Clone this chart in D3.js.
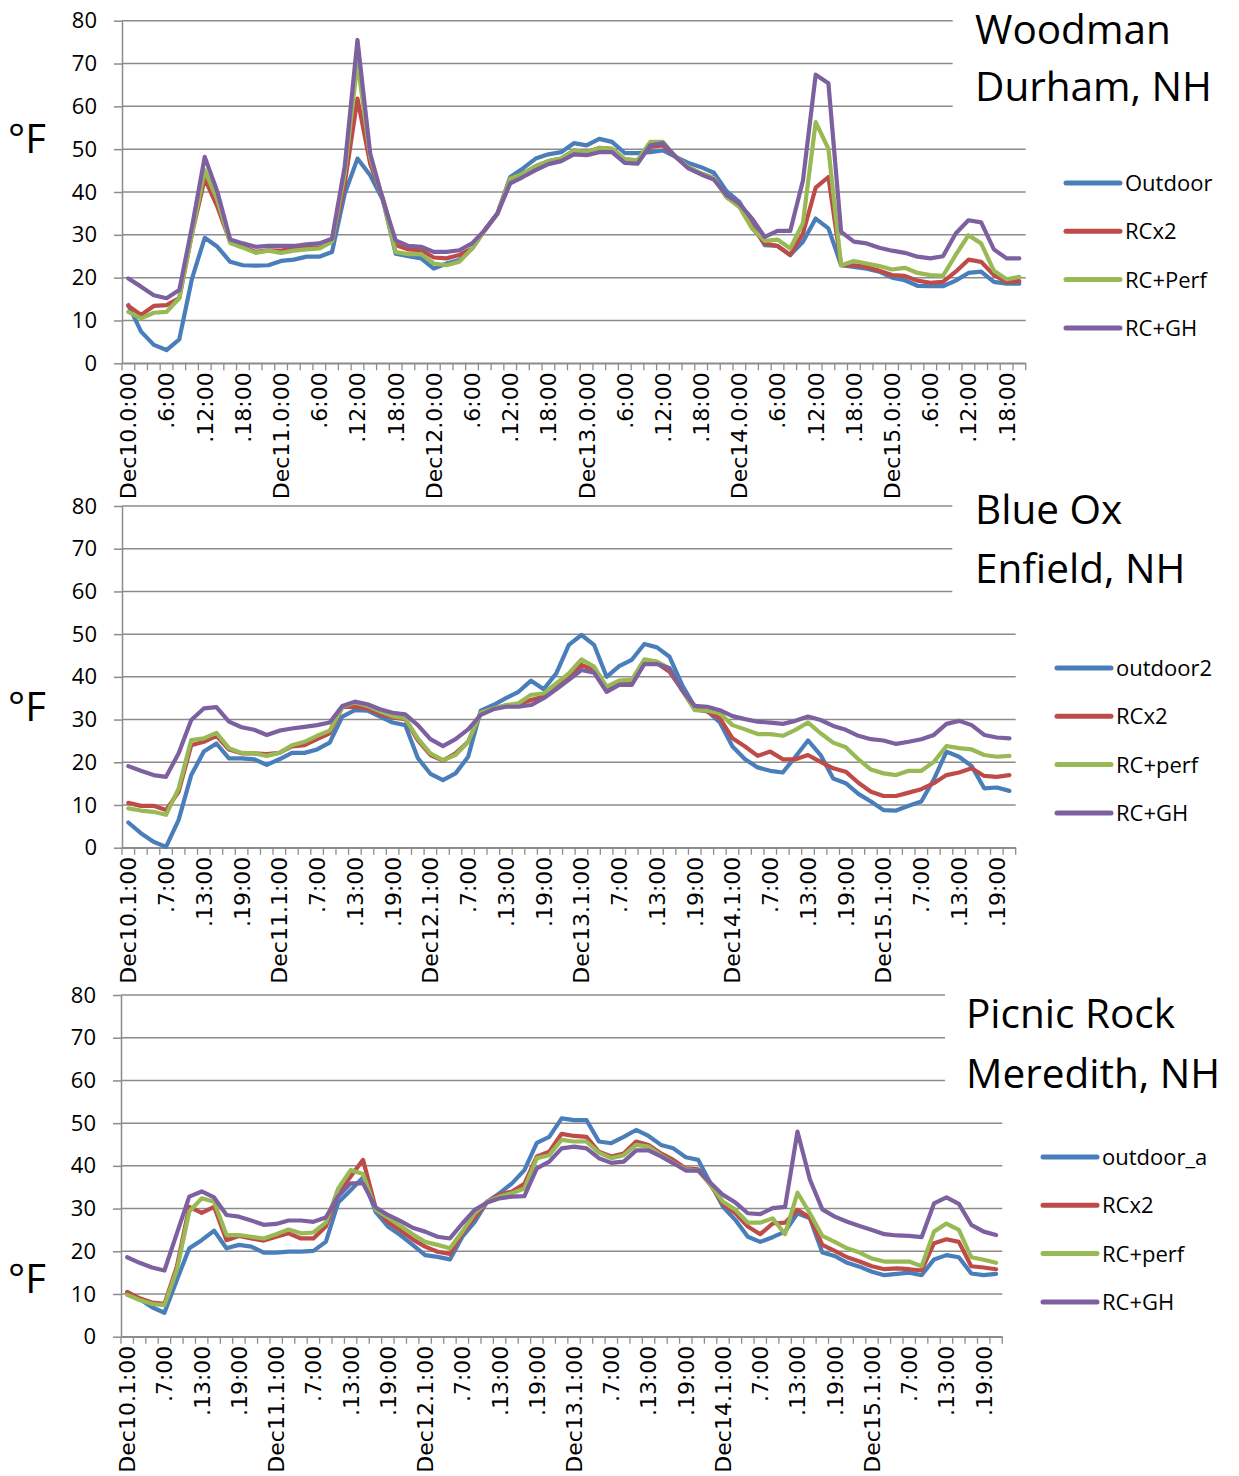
<!DOCTYPE html>
<html><head><meta charset="utf-8">
<script src="https://cdn.jsdelivr.net/npm/d3@7"></script>
<style>body{margin:0;background:#fff}svg{display:block}</style>
</head><body>
<svg id="c" width="1239" height="1476"></svg>
<script>
// ---------- DATA ----------
const days = ["Dec10","Dec11","Dec12","Dec13","Dec14","Dec15"];
const hoursEven = ["0","2","4","6","8","10","12","14","16","18","20","22"];
const hoursOdd  = ["1","3","5","7","9","11","13","15","17","19","21","23"];
const yTicks = [0,10,20,30,40,50,60,70,80];

const names1 = ["Outdoor","RCx2","RC+Perf","RC+GH"];
const names2 = ["outdoor2","RCx2","RC+perf","RC+GH"];
const names3 = ["outdoor_a","RCx2","RC+perf","RC+GH"];
const titles1 = ["Woodman","Durham, NH"];
const titles2 = ["Blue Ox","Enfield, NH"];
const titles3 = ["Picnic Rock","Meredith, NH"];

// Woodman, Durham NH
const woodOutdoor = [13.6,7.4,4.3,3.1,5.6,19.8,29.3,27.2,23.7,22.9,22.8,22.9,23.9,24.2,24.9,24.9,26.0,39.6,47.8,43.9,38.1,25.6,25.0,24.5,22.1,23.3,24.1,26.8,31.1,35.0,43.5,45.5,47.8,48.8,49.3,51.4,50.9,52.4,51.7,49.1,49.1,49.3,49.7,48.2,46.8,45.8,44.5,40.2,37.7,32.6,27.6,27.4,25.3,28.4,33.8,31.5,22.9,22.5,22.1,21.4,20.0,19.4,18.1,18.0,18.0,19.3,21.1,21.4,19.0,18.6,18.6];
const woodRCx2 = [13.4,11.3,13.4,13.6,15.2,30.3,43.1,36.5,28.4,27.2,26.0,26.4,26.3,26.8,27.0,27.0,28.4,42.0,61.8,46.6,38.5,27.6,26.6,26.4,24.7,24.5,25.3,26.8,31.1,35.0,43.1,44.3,46.0,47.2,47.8,49.7,49.3,50.3,50.1,47.6,47.4,50.5,50.9,48.2,45.8,44.3,43.3,38.8,36.8,31.8,28.0,27.4,25.3,30.3,41.0,43.5,22.9,22.9,22.5,21.6,20.6,20.4,19.3,18.8,19.0,21.4,24.2,23.7,20.6,19.0,19.2];
const woodPerf = [12.0,10.5,11.8,12.0,15.2,30.3,45.1,38.1,28.1,27.0,25.8,26.3,25.8,26.3,26.6,26.8,28.4,44.3,70.3,48.2,38.1,26.0,25.5,25.5,23.3,22.9,23.7,26.8,31.1,35.0,43.1,44.3,46.0,47.2,47.8,49.7,49.3,50.3,50.1,47.6,47.4,51.7,51.7,48.2,45.8,44.3,43.3,38.8,36.5,31.5,28.6,28.9,26.8,32.8,56.3,50.1,22.9,23.9,23.3,22.7,21.9,22.3,21.1,20.6,20.4,25.3,29.9,28.0,21.6,19.6,20.2];
const woodGH = [19.8,17.9,15.9,15.2,17.1,31.9,48.2,40.0,28.9,28.0,27.2,27.4,27.4,27.4,27.8,28.0,29.1,46.0,75.5,49.0,38.1,28.7,27.4,27.2,26.0,26.0,26.4,28.0,31.1,35.0,42.0,43.5,45.1,46.5,47.2,48.8,48.6,49.3,49.3,46.8,46.6,50.9,51.4,48.2,45.5,44.1,42.9,39.3,37.3,33.8,29.5,30.9,30.9,42.7,67.4,65.4,30.7,28.4,28.0,27.0,26.3,25.8,24.9,24.5,25.0,30.3,33.4,32.9,26.6,24.5,24.5];

// Blue Ox, Enfield NH
const blueOutdoor = [5.9,3.4,1.4,0.2,6.5,17.0,22.5,24.4,20.9,20.9,20.7,19.4,20.7,22.2,22.2,23.0,24.6,30.7,32.2,32.1,30.7,29.3,28.7,21.0,17.3,15.8,17.4,21.3,32.1,33.4,35.0,36.5,39.1,37.1,40.8,47.5,49.8,47.5,40.0,42.5,44.0,47.7,46.9,44.7,38.1,33.0,32.0,29.3,23.7,20.7,18.8,18.0,17.6,21.3,25.1,21.7,16.2,15.1,12.6,10.8,8.8,8.7,9.8,10.8,16.0,22.5,21.3,19.1,13.9,14.1,13.3];
const blueRCx2 = [10.5,9.8,9.8,8.8,13.1,24.0,24.8,26.2,23.0,22.1,22.1,21.9,22.2,23.7,24.0,25.4,26.8,32.9,33.0,32.6,31.3,30.5,30.1,25.2,21.7,20.4,22.1,24.8,31.6,32.6,33.2,33.6,34.6,35.4,38.0,40.0,42.8,41.6,37.3,38.6,38.6,43.6,43.2,41.2,36.9,32.4,31.9,30.3,25.6,23.7,21.5,22.5,20.7,20.7,21.7,20.1,18.6,17.8,15.2,13.1,12.1,12.1,12.9,13.7,15.1,17.0,17.6,18.6,16.8,16.6,17.0];
const bluePerf = [9.2,8.7,8.4,7.7,13.9,25.2,25.6,26.9,23.3,22.2,22.1,21.5,22.2,24.0,24.8,26.2,27.4,33.0,34.0,33.2,31.9,30.8,30.3,25.6,22.1,20.5,21.7,24.8,31.6,32.6,33.4,33.8,35.8,36.1,38.5,40.8,44.1,42.4,37.7,39.1,39.3,44.1,43.6,42.0,36.9,32.2,32.1,31.5,28.7,27.7,26.6,26.6,26.2,27.6,29.3,26.8,24.6,23.5,20.7,18.3,17.4,17.0,18.0,18.0,20.1,23.8,23.3,23.0,21.7,21.3,21.5];
const blueGH = [19.1,18.0,17.0,16.6,22.1,29.9,32.6,32.9,29.5,28.2,27.6,26.4,27.4,27.9,28.3,28.7,29.3,33.2,34.2,33.6,32.4,31.6,31.2,28.7,25.4,23.8,25.4,27.7,31.1,32.4,33.0,33.0,33.4,35.0,37.1,39.3,41.6,41.0,36.5,38.1,38.1,43.0,43.0,42.0,36.9,33.2,33.0,32.2,30.8,30.1,29.5,29.3,29.0,29.7,30.7,29.9,28.5,27.6,26.2,25.4,25.1,24.3,24.8,25.4,26.4,29.0,29.7,28.7,26.4,25.8,25.6];

// Picnic Rock, Meredith NH
const picOutdoor = [10.3,8.8,6.9,5.6,13.3,20.7,22.6,24.8,20.7,21.5,21.1,19.7,19.7,19.9,19.9,20.1,22.2,31.4,34.3,37.3,29.3,25.8,23.8,21.5,19.1,18.7,18.1,23.4,26.9,31.6,33.6,35.9,39.0,45.4,46.8,51.1,50.7,50.7,45.7,45.3,46.8,48.4,47.0,44.9,44.1,42.0,41.4,35.9,30.4,27.3,23.4,22.2,23.3,24.6,28.9,27.7,19.7,18.9,17.3,16.4,15.2,14.4,14.7,15.0,14.4,18.1,19.1,18.6,14.8,14.4,14.7];
const picRCx2 = [10.5,9.0,8.0,7.7,16.4,30.4,29.0,30.4,22.6,23.6,23.0,22.5,23.4,24.2,23.0,23.0,25.8,33.6,37.5,41.4,30.3,26.9,24.9,22.8,21.1,19.9,19.4,24.2,28.0,31.6,33.2,34.0,35.8,42.2,43.3,47.5,47.0,46.8,43.3,42.2,42.9,45.7,44.9,42.9,41.4,39.4,39.2,35.5,31.1,28.9,25.8,24.0,26.5,26.7,29.7,27.9,21.5,20.1,18.6,17.6,16.5,15.8,16.0,15.8,15.5,21.9,22.8,22.2,16.5,16.2,15.8];
const picPerf = [9.8,8.6,7.7,7.4,15.6,29.3,32.4,31.6,23.8,23.8,23.4,23.0,24.0,25.1,24.2,24.4,26.7,34.7,39.0,38.1,29.8,27.9,26.0,24.0,22.2,21.5,20.7,24.6,28.9,31.6,32.8,33.6,34.7,41.8,42.5,46.1,45.7,45.7,43.1,41.8,42.5,44.9,44.5,42.5,40.7,39.2,38.9,35.5,31.6,29.7,26.7,26.7,27.7,24.0,33.7,28.9,23.6,22.2,20.7,19.7,18.3,17.6,17.6,17.6,16.5,24.6,26.5,25.0,18.6,18.0,17.3];
const picGH = [18.6,17.3,16.2,15.5,24.2,32.8,34.0,32.6,28.5,28.1,27.2,26.2,26.4,27.2,27.2,26.9,27.9,32.9,35.9,35.9,30.3,28.5,27.1,25.5,24.6,23.4,23.0,26.5,29.7,31.4,32.4,32.8,32.9,39.4,41.0,44.1,44.5,44.1,41.8,40.7,41.0,43.6,43.6,42.2,40.6,38.9,38.9,36.0,33.2,31.4,28.9,28.7,30.1,30.4,48.0,36.8,29.8,28.1,26.9,25.9,25.0,24.0,23.7,23.6,23.3,31.2,32.6,31.1,26.2,24.6,23.8];

// categories: 2-hour steps, 71 per panel
function makeCats(hours){
  const out=[];
  days.forEach(d=>hours.forEach(h=>out.push(d+"."+h+":00")));
  return out.slice(0,71);
}
const cats1 = makeCats(hoursEven);
const cats23 = makeCats(hoursOdd);

// ---------- LAYOUT ----------
const colors = ["#4A7EBB","#BE4B48","#98B954","#7D60A0"];
const panels = [
  {cats:cats1, series:[woodOutdoor,woodRCx2,woodPerf,woodGH], names:names1, title:titles1,
   left:122, right:1025.7, top:20.7, bottom:363.3, titleX:975, titleY:[43.5,101], maskX:952.7, maskY:[0,122],
   legX:1066, legY:183, unitY:139},
  {cats:cats23, series:[blueOutdoor,blueRCx2,bluePerf,blueGH], names:names2, title:titles2,
   left:122, right:1015.7, top:506, bottom:847.7, titleX:975, titleY:[524,583], maskX:952.3, maskY:[490,606],
   legX:1057, legY:668, unitY:707},
  {cats:cats23, series:[picOutdoor,picRCx2,picPerf,picGH], names:names3, title:titles3,
   left:121, right:1002.3, top:995, bottom:1336.7, titleX:966, titleY:[1028,1088], maskX:945, maskY:[980,1095],
   legX:1043, legY:1157, unitY:1279}
];

const svg = d3.select("#c");
const gridCol = "#8c8c8c";
const sans = "'Open Sans', sans-serif";

panels.forEach(p=>{
  const g = svg.append("g");
  const x = d3.scaleBand().domain(d3.range(p.cats.length)).range([p.left,p.right]).paddingInner(0).paddingOuter(0);
  const y = d3.scaleLinear().domain([0,80]).range([p.bottom,p.top]);
  const cx = i => x(i)+x.bandwidth()/2;

  // gridlines
  g.append("g").selectAll("line").data(yTicks).join("line")
    .attr("x1",p.left).attr("x2",p.right).attr("y1",d=>y(d)).attr("y2",d=>y(d))
    .attr("stroke",gridCol).attr("stroke-width",1.5);

  // y axis
  const ya = g.append("g").attr("transform",`translate(${p.left},0)`)
    .call(d3.axisLeft(y).tickValues(yTicks).tickSizeInner(8).tickSizeOuter(0).tickPadding(17));
  ya.select(".domain").attr("stroke",gridCol).attr("stroke-width",1.5);
  ya.selectAll(".tick line").attr("stroke",gridCol).attr("stroke-width",1.5);
  ya.selectAll("text").attr("font-family",sans).attr("font-size",22).attr("fill","#000");

  // x axis
  const firstHour = p.cats[0].split(".")[1];
  const xa = g.append("g").attr("transform",`translate(0,${p.bottom})`)
    .call(d3.axisBottom(x).tickValues(d3.range(0,p.cats.length,3)).tickSize(0).tickSizeOuter(0)
      .tickFormat(i=>{const s=p.cats[i]; const parts=s.split("."); return parts[1]===firstHour ? s : "."+parts[1];}));
  xa.select(".domain").attr("stroke",gridCol).attr("stroke-width",1.5);
  xa.selectAll("text").attr("transform","rotate(-90)").attr("x",-9).attr("y",0).attr("dy","0.36em")
    .attr("text-anchor","end").attr("font-family","'DejaVu Sans', sans-serif").attr("font-size",22).attr("fill","#000");
  // category boundary ticks
  g.append("g").selectAll("line").data(d3.range(p.cats.length+1)).join("line")
    .attr("x1",i=>p.left+i*x.bandwidth()).attr("x2",i=>p.left+i*x.bandwidth())
    .attr("y1",p.bottom).attr("y2",p.bottom+7).attr("stroke",gridCol).attr("stroke-width",1.3);

  // title mask and title
  g.append("rect").attr("x",p.maskX).attr("y",p.maskY[0]).attr("width",1239-p.maskX).attr("height",p.maskY[1]-p.maskY[0]).attr("fill","#fff");
  g.append("g").selectAll("text").data(p.title).join("text")
    .attr("x",p.titleX).attr("y",(d,i)=>p.titleY[i]).text(d=>d)
    .attr("font-family",sans).attr("font-size",40.5).attr("fill","#000");

  // unit label
  g.append("text").attr("x",8).attr("y",p.unitY).attr("dy","0.36em").text("°F")
    .attr("font-family",sans).attr("font-size",40).attr("fill","#000");

  // series lines
  const line = d3.line().x((d,i)=>cx(i)).y(d=>y(d));
  g.append("g").selectAll("path").data(p.series).join("path")
    .attr("d",d=>line(d)).attr("fill","none").attr("stroke",(d,i)=>colors[i])
    .attr("stroke-width",4.2).attr("stroke-linejoin","round").attr("stroke-linecap","round");

  // legend
  const lg = g.append("g").selectAll("g").data(p.names).join("g")
    .attr("transform",(d,i)=>`translate(${p.legX},${p.legY+i*48.3})`);
  lg.append("line").attr("x1",0).attr("x2",54).attr("stroke",(d,i)=>colors[i]).attr("stroke-width",5).attr("stroke-linecap","round");
  lg.append("text").attr("x",59).attr("dy","0.36em").text(d=>d)
    .attr("font-family",sans).attr("font-size",22).attr("fill","#000");
});
</script>
</body></html>
